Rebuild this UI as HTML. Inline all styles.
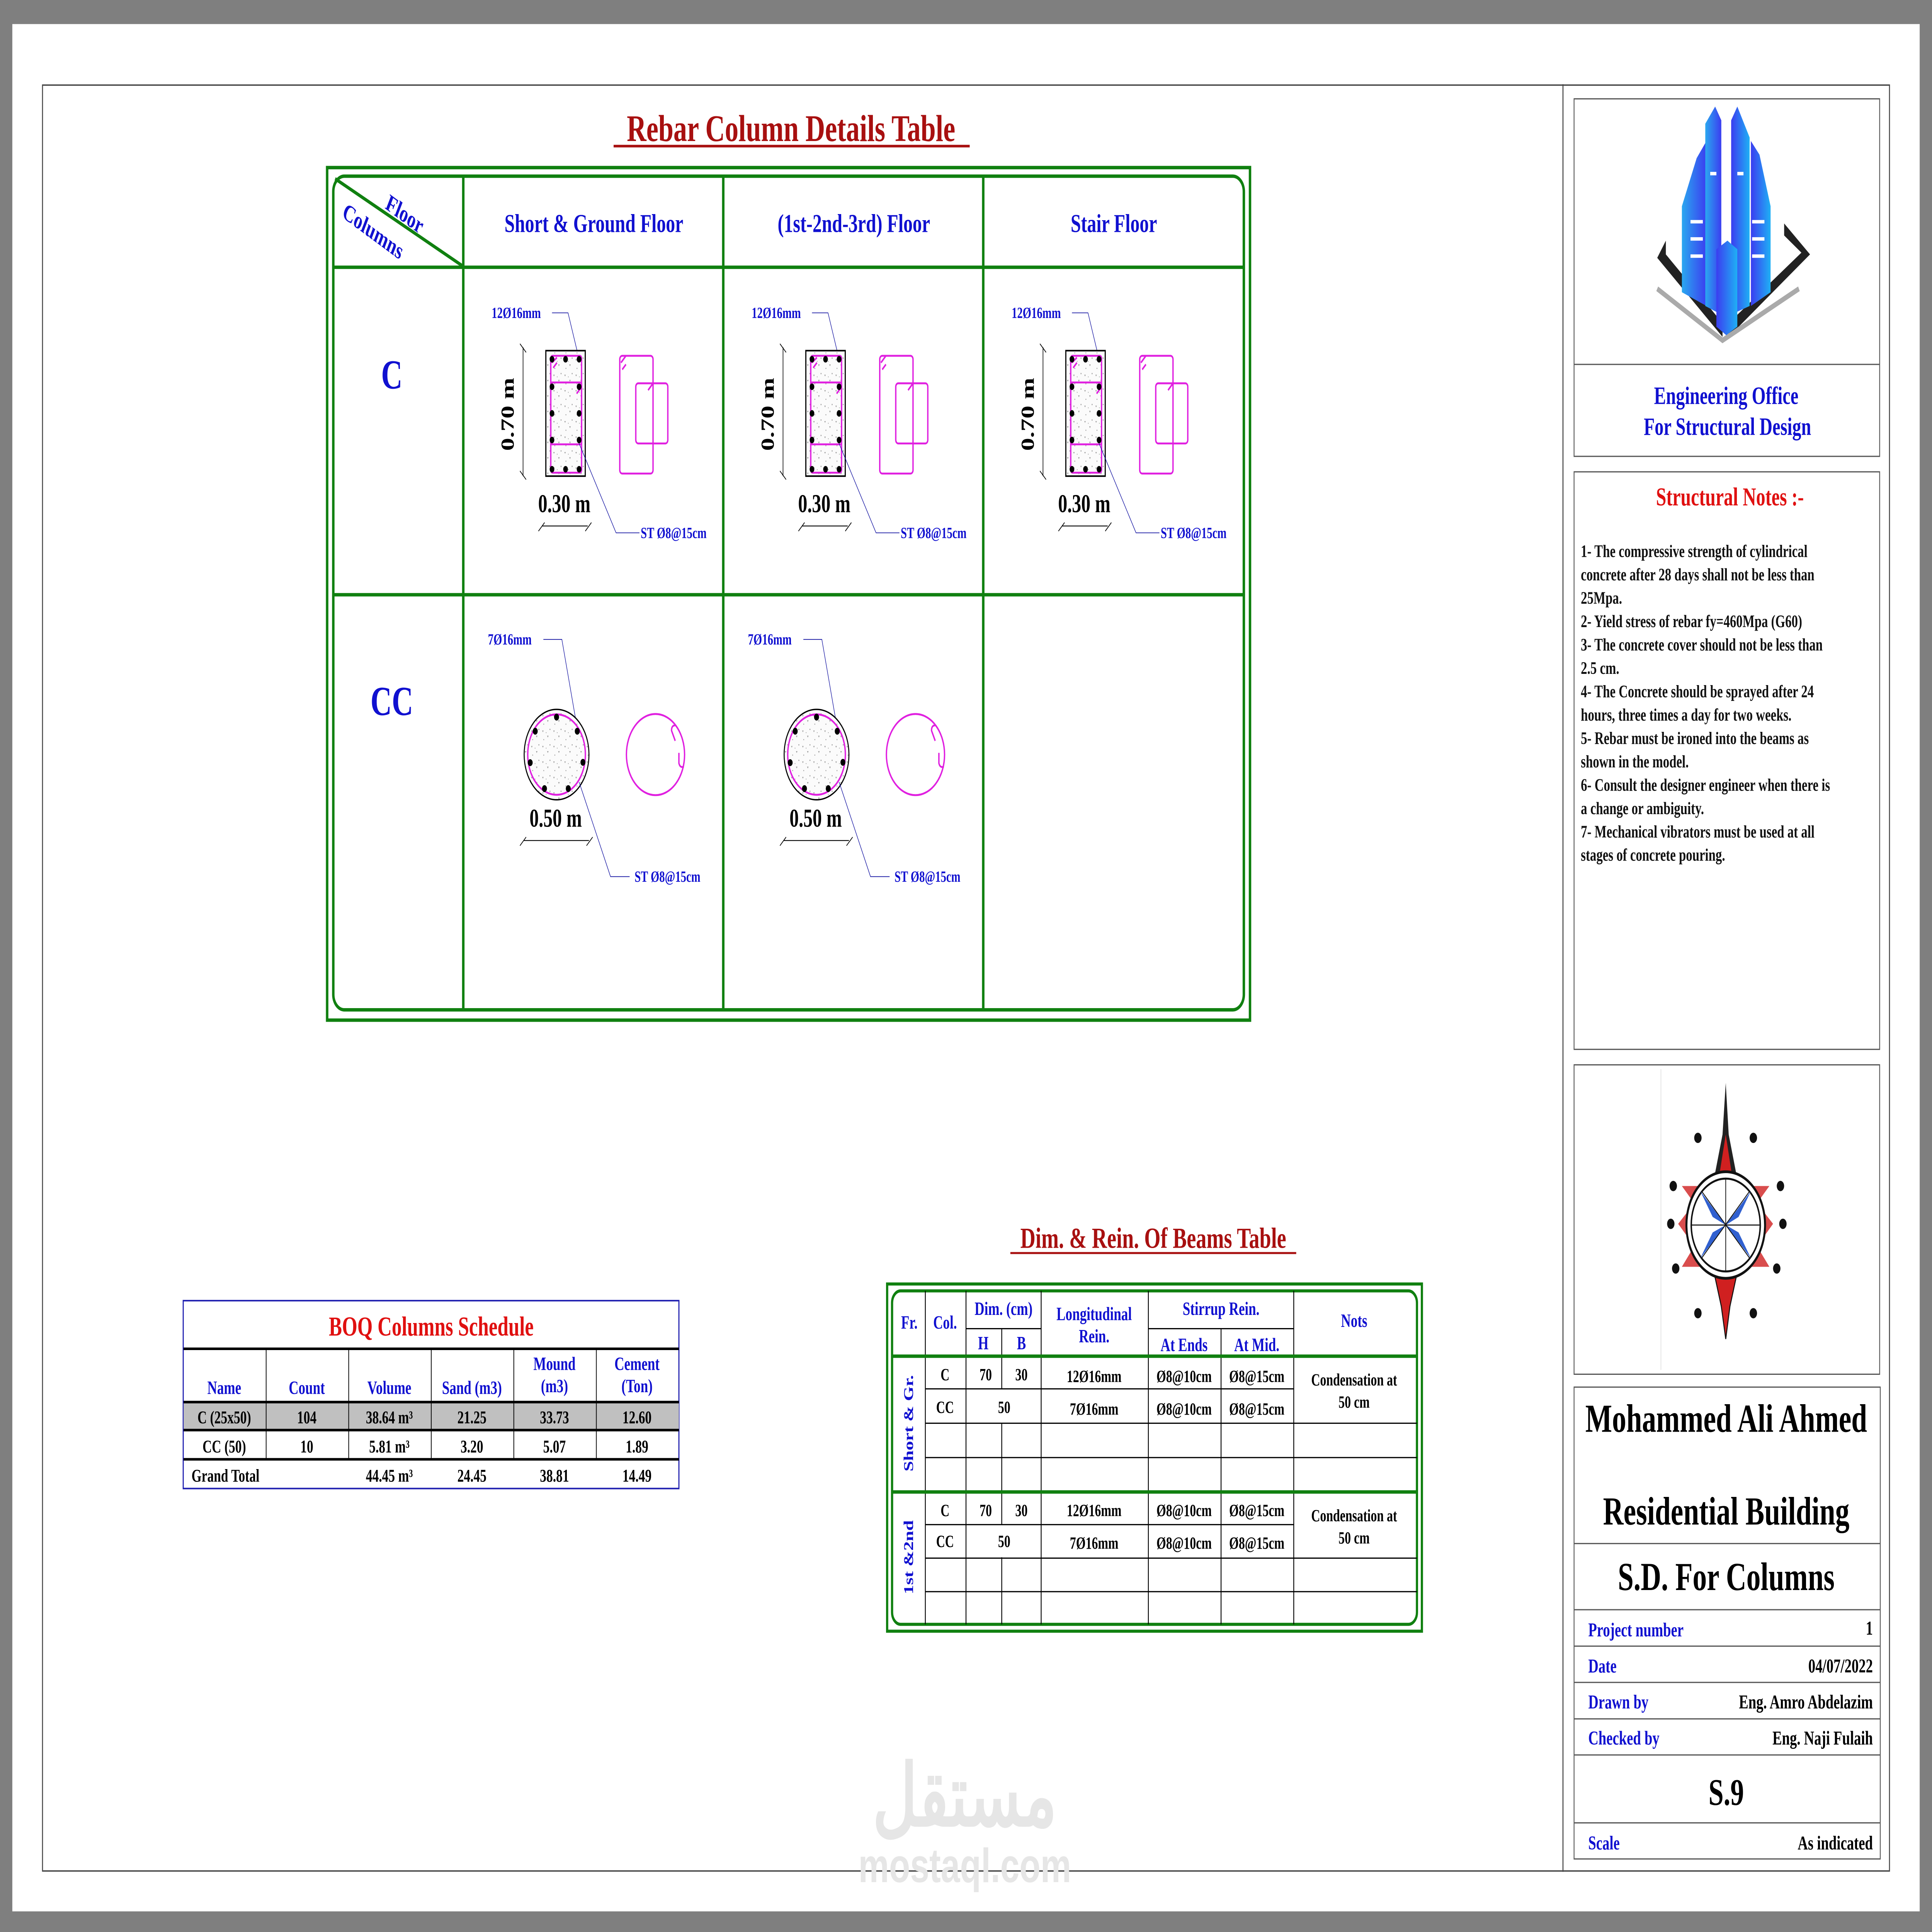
<!DOCTYPE html>
<html><head><meta charset="utf-8"><style>
html,body{margin:0;padding:0;background:#fff;width:100%;height:100%;overflow:hidden}
svg{display:block;width:100vw;height:100vh}
text{font-family:"Liberation Serif",serif;font-weight:bold}
</style></head><body>
<svg xmlns="http://www.w3.org/2000/svg" viewBox="0 0 1568 1124" preserveAspectRatio="none">
<defs>
<pattern id="sp" width="9" height="9" patternUnits="userSpaceOnUse">
<rect width="9" height="9" fill="#fbfbfb"/>
<path d="M1 2 l1.2 0 l-0.6 1z M5 5 l1.2 0 l-0.6 1.1z M7 1 h0.7 v0.7 h-0.7z M2 7 h0.6 v0.6 h-0.6z M4 3 h0.5v0.5h-0.5z" fill="#999"/>
</pattern>
<linearGradient id="bl" x1="0" x2="1"><stop offset="0" stop-color="#2aa8f0"/><stop offset="1" stop-color="#3b3df0"/></linearGradient>
<linearGradient id="bl2" x1="0" x2="1"><stop offset="0" stop-color="#3b3df0"/><stop offset="1" stop-color="#1fb0f5"/></linearGradient>
<g id="colC">
<text x="23" y="185" font-size="9" fill="#1010d0">12Ø16mm</text>
<path d="M72 182 H85 L94 209" stroke="#1010a0" stroke-width="0.4" fill="none"/>
<rect x="67" y="204" width="32" height="73" fill="url(#sp)" stroke="#000" stroke-width="0.9"/>
<g fill="none" stroke="#e020e0" stroke-width="1.1">
<rect x="71" y="207" width="25" height="68" rx="1.5"/>
<rect x="71" y="222.5" width="25" height="36" rx="1"/>
<path d="M72 211 l4 -3 M73 214 l3 -3 M93 226 l3 -3 M92 229 l3 -3"/>
<rect x="127" y="207" width="27" height="68.5" rx="2"/>
<rect x="140" y="223" width="26" height="35" rx="2"/>
<path d="M128 211 l4 -4 M129 215 l3 -3 M150 227 l4 -4"/>
</g>
<g fill="#000">
<circle cx="72" cy="209" r="1.9"/><circle cx="83" cy="209" r="1.9"/><circle cx="94" cy="209" r="1.9"/>
<circle cx="72" cy="225" r="1.9"/><circle cx="94" cy="225" r="1.9"/>
<circle cx="72" cy="240.5" r="1.9"/><circle cx="94" cy="240.5" r="1.9"/>
<circle cx="72" cy="256" r="1.9"/><circle cx="94" cy="256" r="1.9"/>
<circle cx="72" cy="273" r="1.9"/><circle cx="83" cy="273" r="1.9"/><circle cx="94" cy="273" r="1.9"/>
</g>
<path d="M48.5 202 V277 M46 200 l5 5 M46 274 l5 5 M64 306 H101 M61 309 l5 -5 M99 309 l5 -5" stroke="#000" stroke-width="0.5" fill="none"/>
<text transform="translate(41 241) rotate(-90)" x="0" y="0" font-size="15" text-anchor="middle" fill="#000">0.70 m</text>
<text x="82" y="298" font-size="15" text-anchor="middle" fill="#000">0.30 m</text>
<path d="M94 258 L124 310 H143" stroke="#1010a0" stroke-width="0.4" fill="none"/>
<text x="144" y="313" font-size="9" fill="#1010d0">ST Ø8@15cm</text>
</g>
<g id="colCC">
<text x="20" y="375" font-size="9" fill="#1010d0">7Ø16mm</text>
<path d="M65 372 H80 L94 430" stroke="#1010a0" stroke-width="0.4" fill="none"/>
<circle cx="75.7" cy="439" r="26.3" fill="url(#sp)" stroke="#000" stroke-width="0.8"/>
<circle cx="75.7" cy="439" r="23.4" fill="none" stroke="#e020e0" stroke-width="1.1"/>
<g fill="#000">
<circle cx="75.7" cy="417.2" r="2"/><circle cx="58.4" cy="425.4" r="2"/><circle cx="92.5" cy="425.4" r="2"/>
<circle cx="54.3" cy="443.7" r="2"/><circle cx="97.1" cy="443.5" r="2"/><circle cx="65.9" cy="458.8" r="2"/><circle cx="85.2" cy="458.8" r="2"/>
</g>
<circle cx="156" cy="439" r="23.6" fill="none" stroke="#e020e0" stroke-width="1.1"/>
<path d="M172 431 l-3 -6 q0 -3 3 -3 M175 438 v6 q1 3 4 2" stroke="#e020e0" stroke-width="1.1" fill="none"/>
<text x="75" y="481" font-size="15" text-anchor="middle" fill="#000">0.50 m</text>
<path d="M49 489 H102 M46 492 l5 -5 M100 492 l5 -5" stroke="#000" stroke-width="0.5" fill="none"/>
<path d="M94 455 L119.5 510 H135" stroke="#1010a0" stroke-width="0.4" fill="none"/>
<text x="139" y="513" font-size="9" fill="#1010d0">ST Ø8@15cm</text>
</g>
</defs>
<rect width="1568" height="1124" fill="#7f7f7f"/>
<rect x="10" y="14" width="1548" height="1098" fill="#fff"/>
<rect x="34.5" y="49.5" width="1499" height="1039" fill="none" stroke="#444" stroke-width="0.8"/>
<line x1="1268.5" y1="49" x2="1268.5" y2="1089" stroke="#444" stroke-width="0.8"/>

<text x="642" y="82" font-size="22" text-anchor="middle" fill="#a81010">Rebar Column Details Table</text>
<line x1="498" y1="85" x2="787" y2="85" stroke="#a81010" stroke-width="1.5"/>
<rect x="265.5" y="97.5" width="749" height="496" fill="none" stroke="#108010" stroke-width="2"/>
<rect x="270.5" y="102.5" width="739" height="485" rx="9" fill="none" stroke="#108010" stroke-width="2"/>
<g stroke="#108010" stroke-width="2">
<line x1="376" y1="102" x2="376" y2="588"/><line x1="587" y1="102" x2="587" y2="588"/><line x1="798" y1="102" x2="798" y2="588"/>
<line x1="270" y1="155.5" x2="1010" y2="155.5"/><line x1="270" y1="346" x2="1010" y2="346"/>
<line x1="272" y1="104" x2="376" y2="155"/>
</g>
<text transform="translate(312 121) rotate(28)" font-size="14" fill="#1010d0">Floor</text>
<text transform="translate(277 126) rotate(28)" font-size="14" fill="#1010d0">Columns</text>
<g font-size="15" fill="#1010d0" text-anchor="middle">
<text x="482" y="135">Short &amp; Ground Floor</text>
<text x="693" y="135">(1st-2nd-3rd) Floor</text>
<text x="904" y="135">Stair Floor</text>
</g>
<text x="318" y="226" font-size="24" fill="#1010d0" text-anchor="middle">C</text>
<text x="318" y="416" font-size="24" fill="#1010d0" text-anchor="middle">CC</text>
<use href="#colC" x="376"/><use href="#colC" x="587"/><use href="#colC" x="798"/>
<use href="#colCC" x="376"/><use href="#colCC" x="587"/>

<rect x="148.7" y="756.7" width="402.3" height="109.3" fill="none" stroke="#2020b0" stroke-width="0.9"/>
<rect x="149" y="815.7" width="402" height="16.3" fill="#c0c0c0"/>
<text x="350" y="777" font-size="16" fill="#e01010" text-anchor="middle">BOQ Columns Schedule</text>
<g stroke="#000">
<line x1="149" y1="784.7" x2="551" y2="784.7" stroke-width="1.5"/>
<line x1="149" y1="815.7" x2="551" y2="815.7" stroke-width="1.5"/>
<line x1="149" y1="832" x2="551" y2="832" stroke-width="1.5"/>
<line x1="149" y1="849" x2="551" y2="849" stroke-width="1.5"/>
<g stroke-width="0.6"><line x1="216" y1="785" x2="216" y2="849"/><line x1="283" y1="785" x2="283" y2="849"/><line x1="350" y1="785" x2="350" y2="849"/><line x1="417" y1="785" x2="417" y2="849"/><line x1="484" y1="785" x2="484" y2="849"/></g>
</g>
<g font-size="11" fill="#1010d0" text-anchor="middle">
<text x="182" y="811">Name</text><text x="249" y="811">Count</text><text x="316" y="811">Volume</text><text x="383" y="811">Sand (m3)</text>
<text x="450" y="797">Mound</text><text x="450" y="810">(m3)</text><text x="517" y="797">Cement</text><text x="517" y="810">(Ton)</text>
</g>
<g font-size="10.5" fill="#000" text-anchor="middle">
<text x="182" y="828">C (25x50)</text><text x="249" y="828">104</text><text x="316" y="828">38.64 m³</text><text x="383" y="828">21.25</text><text x="450" y="828">33.73</text><text x="517" y="828">12.60</text>
<text x="182" y="845">CC (50)</text><text x="249" y="845">10</text><text x="316" y="845">5.81 m³</text><text x="383" y="845">3.20</text><text x="450" y="845">5.07</text><text x="517" y="845">1.89</text>
<text x="183" y="862">Grand Total</text><text x="316" y="862">44.45 m³</text><text x="383" y="862">24.45</text><text x="450" y="862">38.81</text><text x="517" y="862">14.49</text>
</g>

<text x="936" y="726" font-size="17" fill="#a81010" text-anchor="middle">Dim. &amp; Rein. Of Beams Table</text>
<line x1="820" y1="729" x2="1052" y2="729" stroke="#a81010" stroke-width="1.2"/>
<rect x="720" y="747" width="434" height="202" fill="none" stroke="#108010" stroke-width="1.8"/>
<rect x="724" y="751" width="426" height="194" rx="7" fill="none" stroke="#108010" stroke-width="1.8"/>
<g stroke="#000" stroke-width="0.7">
<line x1="751" y1="751" x2="751" y2="945"/><line x1="784" y1="751" x2="784" y2="945"/>
<line x1="813" y1="773" x2="813" y2="808"/><line x1="813" y1="828" x2="813" y2="887"/><line x1="813" y1="906" x2="813" y2="945"/>
<line x1="845" y1="751" x2="845" y2="945"/><line x1="932" y1="751" x2="932" y2="945"/><line x1="991" y1="773" x2="991" y2="945"/><line x1="1050" y1="751" x2="1050" y2="945"/>
<line x1="784" y1="773" x2="845" y2="773"/><line x1="932" y1="773" x2="1050" y2="773"/>
<line x1="751" y1="808" x2="1050" y2="808"/><line x1="751" y1="828" x2="1150" y2="828"/><line x1="751" y1="848" x2="1150" y2="848"/>
<line x1="751" y1="887" x2="1050" y2="887"/><line x1="751" y1="906.5" x2="1150" y2="906.5"/><line x1="751" y1="926" x2="1150" y2="926"/>
</g>
<g stroke="#108010" stroke-width="2"><line x1="724" y1="789" x2="1150" y2="789"/><line x1="724" y1="868" x2="1150" y2="868"/></g>
<g font-size="11" fill="#1010d0" text-anchor="middle">
<text x="738" y="773">Fr.</text><text x="767" y="773">Col.</text><text x="814.5" y="765">Dim. (cm)</text>
<text x="798" y="785">H</text><text x="829" y="785">B</text>
<text x="888" y="768">Longitudinal</text><text x="888" y="781">Rein.</text>
<text x="991" y="765">Stirrup Rein.</text><text x="961" y="786">At Ends</text><text x="1020" y="786">At Mid.</text>
<text x="1099" y="772">Nots</text>
<text transform="translate(741 828) rotate(-90)" font-size="11">Short &amp; Gr.</text>
<text transform="translate(741 906) rotate(-90)" font-size="11">1st &amp;2nd</text>
</g>
<g font-size="10" fill="#000" text-anchor="middle">
<text x="767" y="803">C</text><text x="800" y="803">70</text><text x="829" y="803">30</text><text x="888" y="804">12Ø16mm</text><text x="961" y="804">Ø8@10cm</text><text x="1020" y="804">Ø8@15cm</text>
<text x="767" y="822">CC</text><text x="815" y="822">50</text><text x="888" y="823">7Ø16mm</text><text x="961" y="823">Ø8@10cm</text><text x="1020" y="823">Ø8@15cm</text>
<text x="1099" y="806">Condensation at</text><text x="1099" y="819">50 cm</text>
<text x="767" y="882">C</text><text x="800" y="882">70</text><text x="829" y="882">30</text><text x="888" y="882">12Ø16mm</text><text x="961" y="882">Ø8@10cm</text><text x="1020" y="882">Ø8@15cm</text>
<text x="767" y="900">CC</text><text x="815" y="900">50</text><text x="888" y="901">7Ø16mm</text><text x="961" y="901">Ø8@10cm</text><text x="1020" y="901">Ø8@15cm</text>
<text x="1099" y="885">Condensation at</text><text x="1099" y="898">50 cm</text>
</g>

<g fill="none" stroke="#555" stroke-width="0.7">
<rect x="1277.5" y="57.5" width="248" height="208"/><line x1="1277.5" y1="212" x2="1525.5" y2="212"/>
<rect x="1277.5" y="274.5" width="248" height="336"/>
<rect x="1277.5" y="619.5" width="248" height="180"/>
<rect x="1277.5" y="807" width="248.5" height="274.5"/>
<line x1="1277.5" y1="898" x2="1526" y2="898"/><line x1="1277.5" y1="936.5" x2="1526" y2="936.5"/>
<line x1="1277.5" y1="957.7" x2="1526" y2="957.7"/><line x1="1277.5" y1="978.8" x2="1526" y2="978.8"/>
<line x1="1277.5" y1="1000" x2="1526" y2="1000"/><line x1="1277.5" y1="1021" x2="1526" y2="1021"/>
<line x1="1277.5" y1="1060.5" x2="1526" y2="1060.5"/>
</g>
<g>
<path d="M1345 150 L1398 196 L1398 188 L1352 148 L1352 140 Z" fill="#222"/>
<path d="M1469 148 L1403 196 L1403 188 L1462 147 L1448 137 L1448 130 Z" fill="#222"/>
<path d="M1345 168 L1398 198 L1460 168" fill="none" stroke="#aaa" stroke-width="3"/>
<path d="M1365 170 V120 L1377 92 L1385 82 V178 Z" fill="url(#bl)"/>
<path d="M1384 178 V72 L1392 62 L1397 70 V183 Z" fill="url(#bl)"/>
<path d="M1405 183 V70 L1410 62 L1420 80 V178 Z" fill="url(#bl2)"/>
<path d="M1421 178 V82 L1428 90 L1437 120 V170 Z" fill="url(#bl2)"/>
<path d="M1393 145 L1402 140 L1410 145 V190 L1401 195 L1393 190 Z" fill="url(#bl2)"/>
<g fill="#fff"><rect x="1372" y="128" width="10" height="2"/><rect x="1372" y="138" width="10" height="2"/><rect x="1372" y="148" width="10" height="2"/><rect x="1422" y="128" width="10" height="2"/><rect x="1422" y="138" width="10" height="2"/><rect x="1422" y="148" width="10" height="2"/><rect x="1388" y="100" width="5" height="2"/><rect x="1410" y="100" width="5" height="2"/></g>
</g>
<text x="1401" y="235" font-size="14.5" fill="#1010d0" text-anchor="middle">Engineering Office</text>
<text x="1402" y="253" font-size="14.5" fill="#1010d0" text-anchor="middle">For Structural Design</text>
<text x="1404" y="294" font-size="15" fill="#e01010" text-anchor="middle">Structural Notes :-</text>
<g font-size="10.3" fill="#111">
<text x="1283" y="324">1- The compressive strength of cylindrical</text>
<text x="1283" y="337.6">concrete after 28 days shall not be less than</text>
<text x="1283" y="351.2">25Mpa.</text>
<text x="1283" y="364.8">2- Yield stress of rebar fy=460Mpa (G60)</text>
<text x="1283" y="378.4">3- The concrete cover should not be less than</text>
<text x="1283" y="392">2.5 cm.</text>
<text x="1283" y="405.6">4- The Concrete should be sprayed after 24</text>
<text x="1283" y="419.2">hours, three times a day for two weeks.</text>
<text x="1283" y="432.8">5- Rebar must be ironed into the beams as</text>
<text x="1283" y="446.4">shown in the model.</text>
<text x="1283" y="460">6- Consult the designer engineer when there is</text>
<text x="1283" y="473.6">a change or ambiguity.</text>
<text x="1283" y="487.2">7- Mechanical vibrators must be used at all</text>
<text x="1283" y="500.8">stages of concrete pouring.</text>
</g>
<g>
<line x1="1348" y1="622" x2="1348" y2="797" stroke="#ddd" stroke-width="0.5"/>
<path d="M1400.6 630 L1403 660 L1410 686 L1400.6 695 L1391 686 L1398 660 Z" fill="#222"/>
<path d="M1400.6 660 L1407 690 L1400.6 700 L1394 690 Z" fill="#d02020"/>
<path d="M1400.6 779 L1404 760 L1410 740 L1400.6 735 L1391 740 L1397 760 Z" fill="#d02020" stroke="#111" stroke-width="0.8"/>
<path d="M1365 690 L1375 700 L1362 712 L1375 725 L1365 737 L1436 737 L1426 725 L1439 712 L1426 700 L1436 690 Z" fill="#d02020" opacity="0.8"/>
<ellipse cx="1400.6" cy="712.7" rx="31.9" ry="31" fill="#fff" stroke="#111" stroke-width="1.6"/>
<ellipse cx="1400.6" cy="712.7" rx="28" ry="27" fill="none" stroke="#111" stroke-width="1.2"/>
<path d="M1400.6 712.7 L1380 693 L1390 708Z M1400.6 712.7 L1421 693 L1411 708Z M1400.6 712.7 L1380 732 L1390 717Z M1400.6 712.7 L1421 732 L1411 717Z" fill="#3060d0"/>
<g stroke="#111" stroke-width="0.6"><line x1="1400.6" y1="686" x2="1400.6" y2="740"/><line x1="1373" y1="712.7" x2="1428" y2="712.7"/><line x1="1381" y1="693" x2="1420" y2="732"/><line x1="1420" y1="693" x2="1381" y2="732"/></g>
<g fill="#111"><circle cx="1358" cy="690" r="3"/><circle cx="1445" cy="690" r="3"/><circle cx="1356" cy="712" r="3"/><circle cx="1447" cy="712" r="3"/><circle cx="1360" cy="738" r="3"/><circle cx="1442" cy="738" r="3"/><circle cx="1378" cy="662" r="3"/><circle cx="1423" cy="662" r="3"/><circle cx="1378" cy="764" r="3"/><circle cx="1423" cy="764" r="3"/></g>
</g>
<text x="1401" y="833" font-size="23" fill="#000" text-anchor="middle">Mohammed Ali Ahmed</text>
<text x="1401" y="887" font-size="23" fill="#000" text-anchor="middle">Residential Building</text>
<text x="1401" y="925" font-size="23" fill="#000" text-anchor="middle">S.D. For Columns</text>
<g font-size="11.5">
<text x="1289" y="952" fill="#1010d0">Project number</text><text x="1520" y="951" fill="#000" text-anchor="end">1</text>
<text x="1289" y="973" fill="#1010d0">Date</text><text x="1520" y="973" fill="#000" text-anchor="end">04/07/2022</text>
<text x="1289" y="994" fill="#1010d0">Drawn by</text><text x="1520" y="994" fill="#000" text-anchor="end">Eng. Amro Abdelazim</text>
<text x="1289" y="1015" fill="#1010d0">Checked by</text><text x="1520" y="1015" fill="#000" text-anchor="end">Eng. Naji Fulaih</text>
<text x="1289" y="1076" fill="#1010d0">Scale</text><text x="1520" y="1076" fill="#000" text-anchor="end">As indicated</text>
</g>
<text x="1401" y="1050" font-size="22" fill="#000" text-anchor="middle">S.9</text>
<text x="783" y="1062" font-size="50" fill="#e6e6e6" text-anchor="middle" style="font-family:'Liberation Sans','Noto Sans CJK SC',sans-serif">مستقل</text>
<text x="783" y="1095" font-size="28" fill="#e6e6e6" text-anchor="middle" style="font-family:'Liberation Sans',sans-serif">mostaql.com</text>
</svg>
</body></html>
